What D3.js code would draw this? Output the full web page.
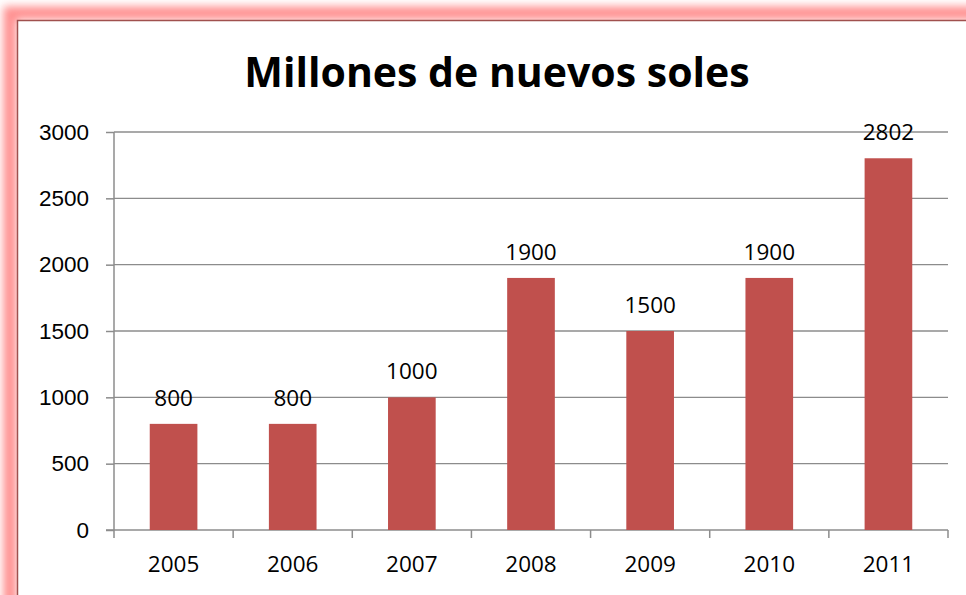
<!DOCTYPE html>
<html>
<head>
<meta charset="utf-8">
<script src="https://cdn.jsdelivr.net/npm/d3@7"></script>
<style>
  body { margin: 0; background: #fff; }
  svg { display: block; font-family: "Open Sans", sans-serif; }
</style>
</head>
<body>
<svg width="966" height="595"></svg>
<script>
// chart data
var years = ["2005", "2006", "2007", "2008", "2009", "2010", "2011"];
var values = [800, 800, 1000, 1900, 1500, 1900, 2802];
var yTicks = [0, 500, 1000, 1500, 2000, 2500, 3000];
var title = "Millones de nuevos soles";

var svg = d3.select('svg');

// glow around the chart frame
var defs = svg.append('defs');
var glow = defs.append('filter')
    .attr('id', 'glow')
    .attr('x', '-5%').attr('y', '-5%')
    .attr('width', '110%').attr('height', '110%');
glow.append('feGaussianBlur')
    .attr('stdDeviation', 4);

svg.append('rect')
    .attr('x', 10).attr('y', 13)
    .attr('width', 990).attr('height', 620)
    .attr('fill', 'none')
    .attr('stroke', '#ff8f8f')
    .attr('stroke-width', 13)
    .attr('filter', 'url(#glow)');
svg.append('rect')
    .attr('x', 17.5).attr('y', 20.5)
    .attr('width', 990).attr('height', 620)
    .attr('fill', '#fff')
    .attr('stroke', '#a0504e')
    .attr('stroke-width', 1.5);

var padding = {t: 132, l: 114, r: 18, b: 65};
var chartWidth = 966 - padding.l - padding.r;
var chartHeight = 595 - padding.t - padding.b;

var chartG = svg.append('g')
    .attr('transform', 'translate(' + [padding.l, padding.t] + ')');

var xScale = d3.scaleBand()
    .domain(years)
    .range([0, chartWidth])
    .paddingInner(0.6)
    .paddingOuter(0.3);
var yScale = d3.scaleLinear()
    .domain([0, 3000])
    .range([chartHeight, 0]);

// gridlines
chartG.selectAll('.grid')
    .data(yTicks.filter(function(d) { return d > 0; }))
    .enter().append('line')
    .attr('class', 'grid')
    .attr('x1', 0).attr('x2', chartWidth)
    .attr('y1', function(d) { return yScale(d); })
    .attr('y2', function(d) { return yScale(d); })
    .attr('stroke', '#8c8c8c')
    .attr('stroke-width', 1.3);

// y axis
var yAxisG = chartG.append('g')
    .call(d3.axisLeft(yScale).tickValues(yTicks).tickFormat(d3.format('d'))
        .tickSize(8).tickPadding(17));
yAxisG.select('.domain').remove();
yAxisG.append('line')
    .attr('x1', 0).attr('x2', 0)
    .attr('y1', 0).attr('y2', chartHeight);
yAxisG.selectAll('line')
    .attr('stroke', '#8c8c8c')
    .attr('stroke-width', 1.5);
yAxisG.selectAll('text')
    .attr('fill', '#000')
    .style('font-size', '22.5px');

// x axis, ticks on the category boundaries
var bounds = d3.range(years.length + 1).map(function(i) { return i * chartWidth / years.length; });
var xAxisG = chartG.append('g')
    .attr('transform', 'translate(0,' + chartHeight + ')');
xAxisG.append('line')
    .attr('x1', -8).attr('x2', chartWidth)
    .attr('stroke', '#8c8c8c').attr('stroke-width', 1.5);
xAxisG.selectAll('.xtick')
    .data(bounds)
    .enter().append('line')
    .attr('x1', function(d) { return d; })
    .attr('x2', function(d) { return d; })
    .attr('y1', 0).attr('y2', 8)
    .attr('stroke', '#8c8c8c').attr('stroke-width', 1.5);
xAxisG.selectAll('.xlabel')
    .data(years)
    .enter().append('text')
    .attr('x', function(d) { return xScale(d) + xScale.bandwidth() / 2; })
    .attr('y', 42)
    .attr('text-anchor', 'middle')
    .style('font-size', '22.5px')
    .text(function(d) { return d; });

// bars
chartG.selectAll('.bar')
    .data(values)
    .enter().append('rect')
    .attr('class', 'bar')
    .attr('x', function(d, i) { return xScale(years[i]); })
    .attr('width', xScale.bandwidth())
    .attr('y', function(d) { return yScale(d); })
    .attr('height', function(d) { return chartHeight - yScale(d); })
    .attr('fill', '#c0504d');

// value labels
chartG.selectAll('.label')
    .data(values)
    .enter().append('text')
    .attr('class', 'label')
    .attr('x', function(d, i) { return xScale(years[i]) + xScale.bandwidth() / 2; })
    .attr('y', function(d) { return yScale(d) - 18; })
    .attr('text-anchor', 'middle')
    .style('font-size', '22.5px')
    .text(function(d) { return d; });

// title
svg.append('text')
    .attr('x', 497)
    .attr('y', 87)
    .attr('text-anchor', 'middle')
    .style('font-size', '41px')
    .style('font-weight', 'bold')
    .text(title);
</script>
</body>
</html>
